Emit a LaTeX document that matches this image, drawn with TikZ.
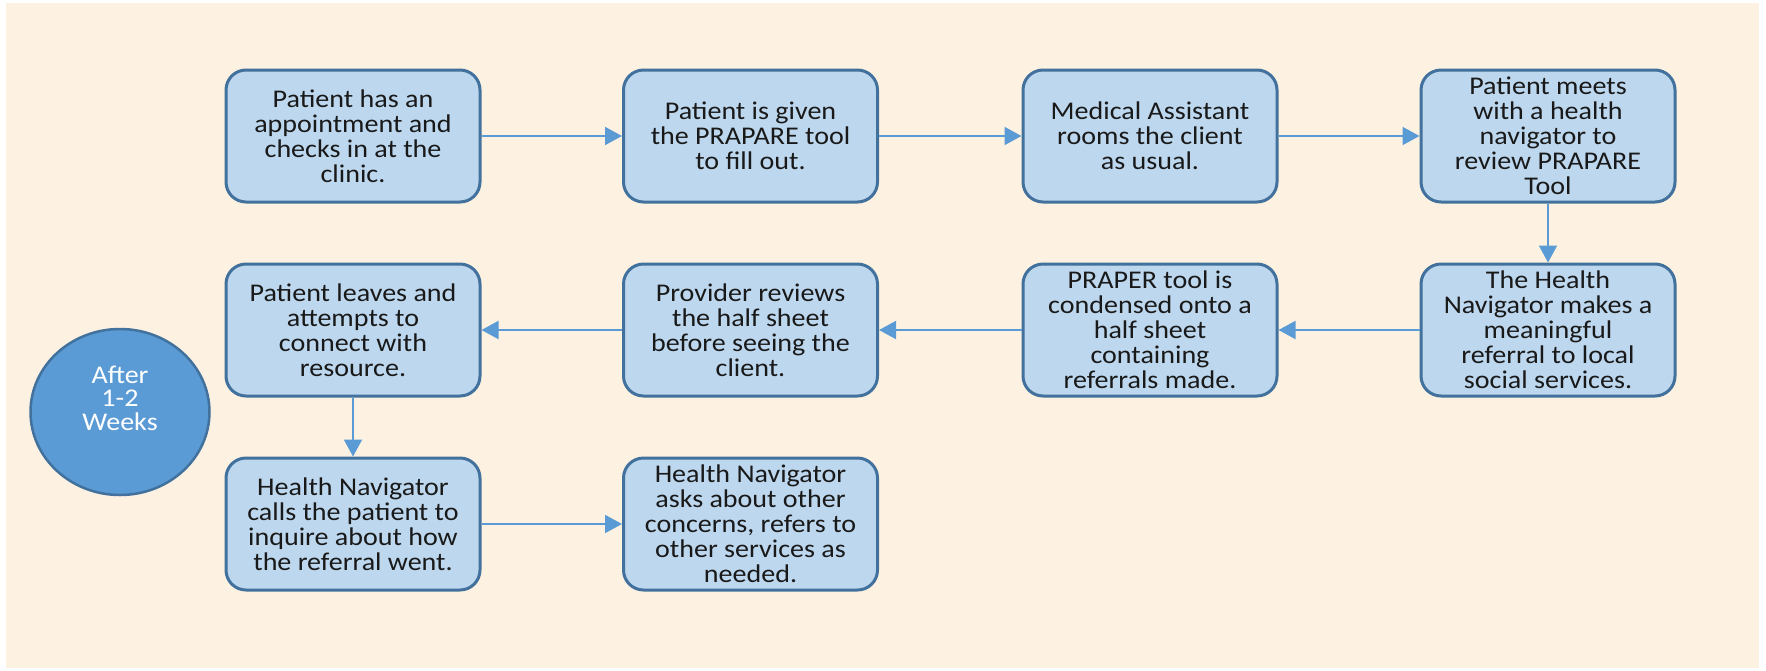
\documentclass[tikz,border=0pt]{standalone}
\usepackage{fontspec}
\setmainfont{Carlito}[FakeStretch=1.1]
\usetikzlibrary{arrows.meta}
\definecolor{cream}{HTML}{FDF2E1}
\definecolor{boxfill}{HTML}{BDD7EE}
\definecolor{boxline}{HTML}{41719C}
\definecolor{arrowc}{HTML}{5B9BD5}
\definecolor{circfill}{HTML}{5B9BD5}
\tikzset{
  stepbox/.style={draw=boxline, fill=boxfill, line width=3pt, rounded corners=20pt,
    minimum width=254pt, minimum height=132pt, inner sep=0pt, align=center,
    font=\fontsize{25.5}{25}\selectfont, text=black!90},
  weektext/.style={align=center, font=\fontsize{25.5}{23.5}\selectfont, text=white, inner sep=0pt},
  flow/.style={draw=arrowc, line width=2pt, -{Triangle[length=17pt, width=18pt]}},
}
\begin{document}
\begin{tikzpicture}[x=1pt, y=-1pt]
\useasboundingbox (0,0) rectangle (1766,670);
\fill[cream] (6,3) rectangle (1759,668);
% row 1
\node[stepbox] (n1) at (353,136) {Patient has an\\appointment and\\checks in at the\\clinic.};
\node[stepbox] (n2) at (750.5,136) {Patient is given\\the PRAPARE tool\\to fill out.};
\node[stepbox] (n3) at (1150,136) {Medical Assistant\\rooms the client\\as usual.};
\node[stepbox] (n4) at (1548,136) {Patient meets\\with a health\\navigator to\\review PRAPARE\\Tool};
% row 2
\node[stepbox] (n5) at (1548,330) {The Health\\Navigator makes a\\meaningful\\referral to local\\social services.};
\node[stepbox] (n6) at (1150,330) {PRAPER tool is\\condensed onto a\\half sheet\\containing\\referrals made.};
\node[stepbox] (n7) at (750.5,330) {Provider reviews\\the half sheet\\before seeing the\\client.};
\node[stepbox] (n8) at (353,330) {Patient leaves and\\attempts to\\connect with\\resource.};
% row 3
\node[stepbox] (n9) at (353,524) {Health Navigator\\calls the patient to\\inquire about how\\the referral went.};
\node[stepbox] (n10) at (750.5,524) {Health Navigator\\asks about other\\concerns, refers to\\other services as\\needed.};
% circle
\draw[draw=boxline, fill=circfill, line width=2.5pt] (120,412) ellipse [x radius=89.5, y radius=83];
\node[weektext] (c) at (120,398) {After\\1-2\\Weeks};
% connectors
\draw[flow] (n1) -- (n2);
\draw[flow] (n2) -- (n3);
\draw[flow] (n3) -- (n4);
\draw[flow] (n4) -- (n5);
\draw[flow] (n5) -- (n6);
\draw[flow] (n6) -- (n7);
\draw[flow] (n7) -- (n8);
\draw[flow] (n8) -- (n9);
\draw[flow] (n9) -- (n10);
\end{tikzpicture}
\end{document}
